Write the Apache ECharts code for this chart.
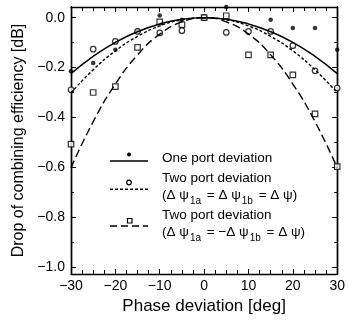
<!DOCTYPE html>
<html>
<head>
<meta charset="utf-8">
<script src="https://cdn.jsdelivr.net/npm/echarts@6/dist/echarts.min.js"></script>
<style>html,body{margin:0;padding:0;background:#fff}#c{width:348px;height:320px}</style>
</head>
<body>
<div id="c"></div>
<script>
// Phase deviation [deg]
const phase = [-30, -25, -20, -15, -10, -5, 0, 5, 10, 15, 20, 25, 30];
// Measured points [dB]
const onePortMeas = [-0.215, -0.182, -0.128, -0.052, 0.009, -0.008, 0, 0.043, null, -0.008, -0.041, -0.041, -0.128];
const twoSameMeas = [-0.289, -0.126, -0.095, -0.055, -0.061, -0.052, 0, -0.059, -0.055, -0.055, -0.112, -0.213, -0.282];
const twoOppMeas  = [-0.507, -0.300, -0.276, -0.119, -0.017, -0.028, 0, 0.008, -0.149, -0.149, -0.229, -0.386, -0.597];
// Theoretical curves [dB]
const onePortCurve = [-0.224, -0.155, -0.099, -0.056, -0.025, -0.006, 0, -0.006, -0.025, -0.056, -0.099, -0.155, -0.224];
const twoSameCurve = [-0.301, -0.209, -0.133, -0.075, -0.033, -0.008, 0, -0.008, -0.033, -0.075, -0.133, -0.209, -0.301];
const twoOppCurve  = [-0.602, -0.417, -0.266, -0.149, -0.066, -0.017, 0, -0.017, -0.066, -0.149, -0.266, -0.417, -0.602];
// Tick values
const yLabelTicks = [0, -0.2, -0.4, -0.6, -0.8, -1.0];
const yMinorTicks = [0, -0.1, -0.2, -0.3, -0.4, -0.5, -0.6, -0.7, -0.8, -0.9, -1.0];

const FONT = "'Liberation Sans', Arial, Helvetica, sans-serif";
const zip = (xs, ys) => xs.map((x, i) => [x, ys[i]]).filter(p => p[1] !== null);
const minus = v => (Math.abs(v) < 1e-9 ? '0' : String(v)).replace('-', '\u2212');
const fmtY = v => (Math.abs(v) < 1e-9 ? '0.0' : v.toFixed(1).replace('-', '\u2212'));

const chart = echarts.init(document.getElementById('c'), null, {renderer: 'canvas'});
const YMIN = -1.028, YMAX = 0.043;
const lineCol = '#000';
const txtCol = '#000';

const xBase = {
  type: 'value', min: -30, max: 30, interval: 10,
  axisLine: {show: true, onZero: false, lineStyle: {color: lineCol, width: 1.4}},
  axisTick: {show: true, inside: true, length: 5, lineStyle: {color: lineCol, width: 1}},
  minorTick: {show: true, splitNumber: 4, length: 4, lineStyle: {color: lineCol, width: 1}},
  splitLine: {show: false}
};
const yBase = {
  type: 'value', min: YMIN, max: YMAX,
  axisLine: {show: true, onZero: false, lineStyle: {color: lineCol, width: 1.4}},
  splitLine: {show: false}
};
const subRich = {
  n: {fontFamily: FONT, fontSize: 13.5, color: txtCol, verticalAlign: 'top', lineHeight: 17},
  s: {fontFamily: FONT, fontSize: 10, color: txtCol, verticalAlign: 'top', lineHeight: 10, padding: [8, 2, 0, 1]}
};

const option = {
  animation: false,
  backgroundColor: '#fff',
  textStyle: {fontFamily: FONT},
  grid: {left: 71, right: 10, top: 7, bottom: 46, containLabel: false},
  xAxis: [
    Object.assign({}, xBase, {
      position: 'bottom',
      name: 'Phase deviation [deg]', nameLocation: 'middle', nameGap: 16,
      nameTextStyle: {fontFamily: FONT, fontSize: 17, color: txtCol},
      axisLabel: {show: true, margin: 5, fontFamily: FONT, fontSize: 14, color: txtCol, formatter: minus}
    }),
    Object.assign({}, xBase, {position: 'top', axisLabel: {show: false}})
  ],
  yAxis: [
    Object.assign({}, yBase, {
      position: 'left',
      name: 'Drop of combining efficiency [dB]', nameLocation: 'middle', nameGap: 42,
      nameTextStyle: {fontFamily: FONT, fontSize: 16, color: txtCol},
      axisTick: {show: true, inside: true, length: 5, customValues: yLabelTicks, lineStyle: {color: lineCol}},
      axisLabel: {show: true, margin: 6, fontFamily: FONT, fontSize: 14, color: txtCol, customValues: yLabelTicks, formatter: fmtY}
    }),
    Object.assign({}, yBase, {
      position: 'left',
      axisTick: {show: true, inside: true, length: 3, customValues: yMinorTicks, lineStyle: {color: lineCol}},
      axisLabel: {show: false}
    }),
    Object.assign({}, yBase, {
      position: 'right',
      axisTick: {show: true, inside: true, length: 5, customValues: yLabelTicks, lineStyle: {color: lineCol}},
      axisLabel: {show: false}
    }),
    Object.assign({}, yBase, {
      position: 'right',
      axisTick: {show: true, inside: true, length: 3, customValues: yMinorTicks, lineStyle: {color: lineCol}},
      axisLabel: {show: false}
    })
  ],
  series: [
    {type: 'line', name: 'one-curve', data: zip(phase, onePortCurve), smooth: 0.5, showSymbol: false, clip: false,
     lineStyle: {color: '#000', width: 1.5, type: 'solid'}},
    {type: 'line', name: 'same-curve', data: zip(phase, twoSameCurve), smooth: 0.5, showSymbol: false, clip: false,
     lineStyle: {color: '#000', width: 1.4, type: [3, 2]}},
    {type: 'line', name: 'opp-curve', data: zip(phase, twoOppCurve), smooth: 0.5, showSymbol: false, clip: false,
     lineStyle: {color: '#000', width: 1.4, type: [8, 4]}},
    {type: 'scatter', name: 'one-meas', data: zip(phase, onePortMeas), symbol: 'circle', symbolSize: 4.5, clip: false,
     itemStyle: {color: '#000'}},
    {type: 'scatter', name: 'same-meas', data: zip(phase, twoSameMeas), symbol: 'circle', symbolSize: 5.5, clip: false,
     itemStyle: {color: '#fff', borderColor: '#000', borderWidth: 1.2}},
    {type: 'scatter', name: 'opp-meas', data: zip(phase, twoOppMeas), symbol: 'rect', symbolSize: 5.5, clip: false,
     itemStyle: {color: '#fff', borderColor: '#000', borderWidth: 1.2}}
  ],
  graphic: [
    {type: 'line', shape: {x1: 110, y1: 161, x2: 148, y2: 161}, style: {stroke: '#000', lineWidth: 1.4}},
    {type: 'circle', shape: {cx: 129, cy: 154.5, r: 2}, style: {fill: '#000'}},
    {type: 'text', x: 162, y: 158.5, style: {text: 'One port deviation', font: '13.5px ' + FONT, fill: txtCol, verticalAlign: 'middle'}},

    {type: 'line', shape: {x1: 110, y1: 189.3, x2: 148, y2: 189.3}, style: {stroke: '#000', lineWidth: 1.4, lineDash: [3, 2]}},
    {type: 'circle', shape: {cx: 129, cy: 182.5, r: 2.3}, style: {fill: '#fff', stroke: '#000', lineWidth: 1.2}},
    {type: 'text', x: 162, y: 178.3, style: {text: 'Two port deviation', font: '13.5px ' + FONT, fill: txtCol, verticalAlign: 'middle'}},
    {type: 'text', x: 162, y: 196.5, style: {
      text: '{n|(\u0394 \u03c8}{s|1a}{n| = \u0394 \u03c8}{s|1b}{n| = \u0394 \u03c8)}',
      verticalAlign: 'middle', fill: txtCol, rich: subRich
    }},

    {type: 'text', x: 162, y: 215, style: {text: 'Two port deviation', font: '13.5px ' + FONT, fill: txtCol, verticalAlign: 'middle'}},
    {type: 'line', shape: {x1: 110, y1: 226, x2: 148, y2: 226}, style: {stroke: '#000', lineWidth: 1.4, lineDash: [7, 4]}},
    {type: 'rect', shape: {x: 127.5, y: 218.5, width: 4.5, height: 4.5}, style: {fill: '#fff', stroke: '#000', lineWidth: 1.2}},
    {type: 'text', x: 162, y: 233.5, style: {
      text: '{n|(\u0394 \u03c8}{s|1a}{n| = \u2212\u0394 \u03c8}{s|1b}{n| = \u0394 \u03c8)}',
      verticalAlign: 'middle', fill: txtCol, rich: subRich
    }}
  ]
};
chart.setOption(option);
</script>
</body>
</html>
